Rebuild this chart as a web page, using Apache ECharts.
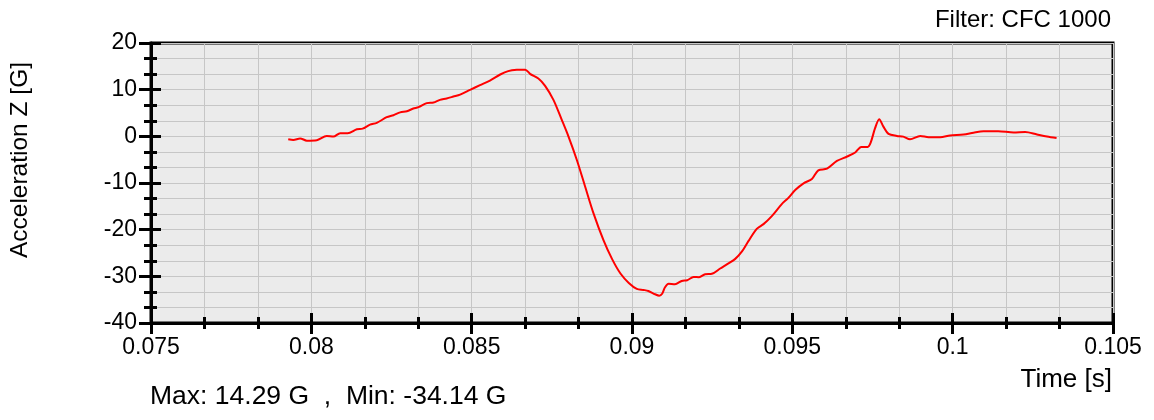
<!DOCTYPE html>
<html><head><meta charset="utf-8">
<script src="https://cdn.jsdelivr.net/npm/echarts@6/dist/echarts.min.js"></script>
<style>html,body{margin:0;padding:0;background:#fff}#c{width:1154px;height:420px}</style>
</head><body><div id="c"></div>
<script>
// Time [s]
var timeS = [0.07928,0.07944,0.07965,0.07986,0.08017,0.08048,0.08069,0.08090,0.08113,0.08142,0.08160,0.08183,0.08204,0.08235,0.08256,0.08277,0.08298,0.08318,0.08334,0.08360,0.08381,0.08401,0.08422,0.08443,0.08464,0.08495,0.08526,0.08557,0.08589,0.08614,0.08641,0.08667,0.08682,0.08708,0.08729,0.08755,0.08781,0.08802,0.08828,0.08854,0.08880,0.08911,0.08938,0.08964,0.08990,0.09015,0.09036,0.09051,0.09072,0.09085,0.09094,0.09103,0.09114,0.09134,0.09155,0.09172,0.09192,0.09209,0.09228,0.09249,0.09275,0.09297,0.09322,0.09343,0.09363,0.09389,0.09410,0.09436,0.09467,0.09487,0.09509,0.09535,0.09561,0.09581,0.09608,0.09639,0.09671,0.09696,0.09715,0.09735,0.09744,0.09758,0.09771,0.09784,0.09800,0.09826,0.09846,0.09867,0.09899,0.09925,0.09961,0.09992,0.10034,0.10065,0.10096,0.10142,0.10190,0.10226,0.10263,0.10294,0.10324];
// Acceleration Z [G]
var accelG = [-0.62,-0.77,-0.45,-0.92,-0.82,0.09,-0.06,0.67,0.67,1.52,1.65,2.51,2.88,4.10,4.53,5.13,5.39,5.95,6.25,7.11,7.24,7.82,8.10,8.52,8.95,9.96,10.97,11.96,13.25,13.98,14.25,14.29,13.40,12.39,10.82,7.82,3.52,-0.06,-5.07,-10.80,-16.51,-22.25,-26.32,-29.40,-31.42,-32.70,-32.92,-33.13,-33.84,-34.14,-33.73,-32.34,-31.59,-31.69,-30.99,-30.84,-30.13,-30.19,-29.55,-29.46,-28.32,-27.40,-26.26,-24.67,-22.46,-19.82,-18.81,-17.09,-14.52,-13.23,-11.51,-10.07,-9.15,-7.28,-6.94,-5.28,-4.32,-3.46,-2.28,-2.28,-1.42,1.74,3.67,2.08,0.52,0.09,-0.06,-0.62,0.09,-0.19,-0.19,0.19,0.37,0.79,1.10,1.10,0.84,0.94,0.41,-0.02,-0.34];
var xTicks = {min:0.075, max:0.105, interval:0.005};
var yTicks = {min:-40, max:20, interval:10};
var titleText = 'Filter: CFC 1000';
var xName = 'Time [s]';
var yName = 'Acceleration Z [G]';
var statsText = 'Max: 14.29 G  ,  Min: -34.14 G';

var FONT = '"Liberation Sans", Arial, sans-serif';
var pts = timeS.map(function(t,i){return [t, accelG[i]];});
var gridCol = '#c6c6c6';
function xAx(inside, main){
  return {type:'value', min:xTicks.min, max:xTicks.max, interval:xTicks.interval, position:'bottom',
    axisLine:{show:main, onZero:false, lineStyle:{color:'#000', width:3}},
    axisTick:{show:true, inside:inside, length: inside?10:11, lineStyle:{color:'#000', width:3}},
    minorTick:{show:true, splitNumber:3, length: inside?6:6, lineStyle:{color:'#000', width:3}},
    axisLabel:{show:main, color:'#000', fontSize:23, fontFamily:FONT, margin:13},
    splitLine:{show:main, lineStyle:{color:gridCol, width:1}},
    minorSplitLine:{show:main, lineStyle:{color:gridCol, width:1}}};
}
function yAx(inside, main){
  return {type:'value', min:yTicks.min, max:yTicks.max, interval:yTicks.interval, position:'left',
    axisLine:{show:main, onZero:false, lineStyle:{color:'#000', width:3}},
    axisTick:{show:true, inside:inside, length: inside?10:12, lineStyle:{color:'#000', width:3}},
    minorTick:{show:true, splitNumber:3, length: inside?6:7, lineStyle:{color:'#000', width:3}},
    axisLabel:{show:main, color:'#000', fontSize:23, fontFamily:FONT, margin:14},
    splitLine:{show:main, lineStyle:{color:gridCol, width:1}},
    minorSplitLine:{show:main, lineStyle:{color:gridCol, width:1}}};
}
var chart = echarts.init(document.getElementById('c'), null, {renderer:'canvas'});
chart.setOption({
  animation:false,
  grid:{left:151, right:41, top:43, bottom:97, show:true, backgroundColor:'#ebebeb', borderColor:'#000', borderWidth:3, containLabel:false},
  xAxis:[xAx(false,true), xAx(true,false)],
  yAxis:[yAx(false,true), yAx(true,false)],
  series:[{type:'line', data:pts, xAxisIndex:0, yAxisIndex:0, showSymbol:false, smooth:0.3,
    lineStyle:{color:'#ff0000', width:2}, z:5}],
  graphic:[
    {type:'text', right:43, top:8, style:{text:titleText, fill:'#000', font:'24px '+FONT}},
    {type:'text', right:42, top:367, style:{text:xName, fill:'#000', font:'26px '+FONT}},
    {type:'text', left:150, top:383, style:{text:statsText, fill:'#000', font:'26.5px '+FONT}},
    {type:'text', left:8, top:62, rotation:Math.PI/2, style:{text:yName, fill:'#000', font:'24.5px '+FONT}}
  ]
});
</script></body></html>
